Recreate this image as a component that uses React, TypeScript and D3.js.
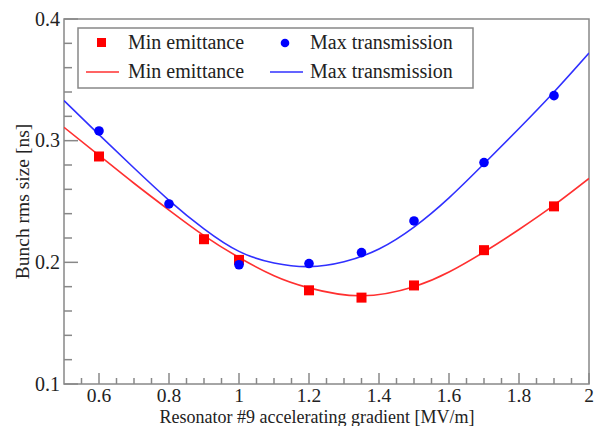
import React from 'react';
import * as d3 from 'd3';

// measured points
const minEmitPts = [
  [0.6, 0.287], [0.9, 0.219], [1.0, 0.202], [1.2, 0.177], [1.35, 0.171],
  [1.5, 0.181], [1.7, 0.210], [1.9, 0.246],
];
const maxTransPts = [
  [0.6, 0.308], [0.8, 0.248], [1.0, 0.198], [1.2, 0.199], [1.35, 0.208],
  [1.5, 0.234], [1.7, 0.282], [1.9, 0.337],
];

// fitted curves
const minEmitFit = [
  [0.5, 0.311], [0.6, 0.288], [0.7, 0.265], [0.8, 0.243], [0.9, 0.222],
  [1.0, 0.204], [1.1, 0.189], [1.2, 0.179], [1.35, 0.1725], [1.5, 0.180],
  [1.6, 0.192], [1.7, 0.2085], [1.8, 0.227], [1.9, 0.247], [2.0, 0.269],
];
const maxTransFit = [
  [0.5, 0.333], [0.6, 0.305], [0.7, 0.2775], [0.8, 0.251], [0.9, 0.2275],
  [1.0, 0.209], [1.1, 0.1995], [1.2, 0.1965], [1.3, 0.2005], [1.4, 0.211],
  [1.5, 0.229], [1.6, 0.253], [1.7, 0.281], [1.8, 0.310], [1.9, 0.340], [2.0, 0.372],
];

const xTicks = [0.6, 0.8, 1.0, 1.2, 1.4, 1.6, 1.8, 2.0];
const yTicks = [0.1, 0.2, 0.3, 0.4];

const W = 595, H = 426;
const m = { left: 64, top: 19, right: 6, bottom: 42 };
const FONT = '"Liberation Serif", "Times New Roman", serif';

export default function App() {
  const x = d3.scaleLinear().domain([0.5, 2]).range([m.left, W - m.right]);
  const y = d3.scaleLinear().domain([0.1, 0.4]).range([H - m.bottom, m.top]);
  const line = d3.line<number[]>()
    .x(d => x(d[0]))
    .y(d => y(d[1]))
    .curve(d3.curveNatural);

  const xMinor = d3.range(0.55, 2.0, 0.05).filter(v => Math.abs(v * 5 - Math.round(v * 5)) > 1e-6);
  const yMinor = d3.range(0.12, 0.4, 0.02).filter(v => Math.abs(v * 10 - Math.round(v * 10)) > 1e-6);
  const x0 = x(0.5), yb = y(0.1);
  const axisCol = '#888';

  return (
    <svg width={W} height={H} style={{ position: 'absolute', left: 0, top: 0 }} fontFamily={FONT}>
      <rect x={0} y={0} width={W} height={H} fill="#fff" />
      <defs>
        <clipPath id="plot">
          <rect x={x0} y={m.top} width={x(2) - x0} height={yb - m.top} />
        </clipPath>
      </defs>

      {/* frame */}
      <rect x={x0} y={m.top} width={x(2) - x0} height={yb - m.top} fill="none" stroke={axisCol} strokeWidth={1.5} />

      {/* x ticks */}
      {xTicks.map(t => (
        <g key={'xt' + t}>
          <line x1={x(t)} x2={x(t)} y1={yb} y2={yb - 11} stroke={axisCol} strokeWidth={1.5} />
          <text x={x(t)} y={yb + 18} textAnchor="middle" fontSize={19.5} fill="#222">{String(+t.toFixed(1))}</text>
        </g>
      ))}
      {xMinor.map(t => (
        <line key={'xm' + t} x1={x(t)} x2={x(t)} y1={yb} y2={yb - 6} stroke={axisCol} strokeWidth={1.5} />
      ))}

      {/* y ticks */}
      {yTicks.map(t => (
        <g key={'yt' + t}>
          <line x1={x0} x2={x0 + 14} y1={y(t)} y2={y(t)} stroke={axisCol} strokeWidth={1.5} />
          <text x={x0 - 4} y={y(t) + 6.5} textAnchor="end" fontSize={20} fill="#222">{t.toFixed(1)}</text>
        </g>
      ))}
      {yMinor.map(t => (
        <line key={'ym' + t} x1={x0} x2={x0 + 8} y1={y(t)} y2={y(t)} stroke={axisCol} strokeWidth={1.5} />
      ))}

      {/* axis titles */}
      <text x={317} y={422.5} textAnchor="middle" fontSize={18} fill="#222">
        Resonator #9 accelerating gradient [MV/m]
      </text>
      <text transform={`translate(29,${(m.top + yb) / 2}) rotate(-90)`} textAnchor="middle" fontSize={19.5} fill="#222">
        Bunch rms size [ns]
      </text>

      {/* curves */}
      <g clipPath="url(#plot)">
        <path d={line(minEmitFit) || ''} fill="none" stroke="#ff3030" strokeWidth={1.6} />
        <path d={line(maxTransFit) || ''} fill="none" stroke="#3030ff" strokeWidth={1.6} />
      </g>

      {/* points */}
      {minEmitPts.map(d => (
        <rect key={'r' + d[0]} x={x(d[0]) - 5} y={y(d[1]) - 5} width={10} height={10} fill="#ff0000" />
      ))}
      {maxTransPts.map(d => (
        <circle key={'c' + d[0]} cx={x(d[0])} cy={y(d[1])} r={4.8} fill="#0000ff" />
      ))}

      {/* legend */}
      <rect x={78} y={28} width={395} height={60} fill="#fff" stroke={axisCol} strokeWidth={1.5} />
      <rect x={97} y={38} width={9} height={9} fill="#ff0000" />
      <text x={128} y={49} fontSize={20} fill="#222">Min emittance</text>
      <circle cx={285} cy={43} r={4.3} fill="#0000ff" />
      <text x={310} y={49} fontSize={20} fill="#222">Max transmission</text>
      <line x1={86} x2={119} y1={72} y2={72} stroke="#ff3030" strokeWidth={1.6} />
      <text x={128} y={78} fontSize={20} fill="#222">Min emittance</text>
      <line x1={270} x2={303} y1={72} y2={72} stroke="#3030ff" strokeWidth={1.6} />
      <text x={310} y={78} fontSize={20} fill="#222">Max transmission</text>
    </svg>
  );
}
